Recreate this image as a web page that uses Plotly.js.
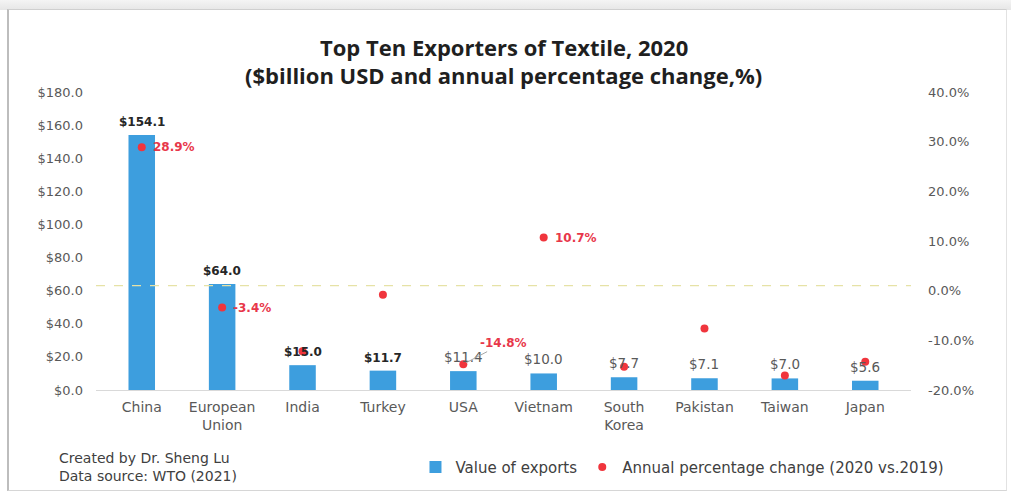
<!DOCTYPE html>
<html>
<head>
<meta charset="utf-8">
<script src="https://cdn.plot.ly/plotly-3.0.1.min.js"></script>
<style>
  html, body { margin: 0; padding: 0; background: #ffffff; }
  #wrap { position: relative; width: 1011px; height: 495px; overflow: hidden; background: #fff; }
  #topshade { position: absolute; left: 0; top: 0; width: 1011px; height: 10px;
    background: linear-gradient(#f4f4f4, #e6e6e6); }
  #frame { position: absolute; left: 7px; top: 9px; width: 1000px; height: 482px;
    border-left: 2px solid #bdbdbd; border-top: 1px solid #cfcfcf; border-bottom: 1px solid #d6d6d6;
    border-right: 1px solid #e2e2e2; box-sizing: border-box; pointer-events: none; }
  #chart { position: absolute; left: 0; top: 0; width: 1011px; height: 495px; }
</style>
</head>
<body>
<div id="wrap">
  <div id="topshade"></div>
  <div id="chart"></div>
  <div id="frame"></div>
</div>
<script>
// ---- data ----
const countries = ["China", "European<br>Union", "India", "Turkey", "USA", "Vietnam", "South<br>Korea", "Pakistan", "Taiwan", "Japan"];
const exportValues = [154.1, 64.0, 15.0, 11.7, 11.4, 10.0, 7.7, 7.1, 7.0, 5.6];
const pctChange = [28.9, -3.4, -12.2, -0.8, -14.8, 10.7, -15.3, -7.6, -17.1, -14.3];
const pctLabelShown = [true, true, false, false, true, true, false, false, false, false];
const refLineValue = 1.0;

const leftTicks = [0, 20, 40, 60, 80, 100, 120, 140, 160, 180];
const leftTickText = leftTicks.map(v => "$" + v.toFixed(1));
const rightTicks = [-20, -10, 0, 10, 20, 30, 40];
const rightTickText = rightTicks.map(v => v.toFixed(1) + "%");

// ---- styling ----
const barColor = "#3d9ede";
const dotColor = "#f0353d";
const tickFont = { family: "DejaVu Sans", size: 13, color: "#595959" };

const bars = {
  type: "bar",
  name: "Value of exports",
  x: countries,
  y: exportValues,
  marker: { color: barColor },
  width: 0.33,
  hoverinfo: "x+y"
};

const dots = {
  type: "scatter",
  mode: "markers",
  name: "Annual percentage change (2020 vs.2019)",
  x: countries,
  y: pctChange,
  yaxis: "y2",
  marker: { color: dotColor, size: 8 },
  hoverinfo: "x+y"
};

const annotations = [];

// value labels above bars
exportValues.forEach((v, i) => {
  const bold = i < 4;
  annotations.push({
    x: countries[i], y: v, xref: "x", yref: "y",
    text: (bold ? "<b>$" + v.toFixed(1) + "</b>" : "$" + v.toFixed(1)),
    showarrow: false, yanchor: "bottom", yshift: 4,
    font: { family: "DejaVu Sans", size: bold ? 12 : 13.5, color: bold ? "#262626" : "#595959" }
  });
});

// percentage labels
pctChange.forEach((p, i) => {
  if (!pctLabelShown[i]) return;
  const txt = "<b>" + p.toFixed(1) + "%</b>";
  if (countries[i] === "USA") {
    annotations.push({
      x: countries[i], y: p, xref: "x", yref: "y2",
      text: txt, showarrow: true, arrowhead: 0, arrowwidth: 1, arrowcolor: "#a6a6a6",
      ax: 40, ay: -21, standoff: 3,
      font: { family: "DejaVu Sans", size: 12, color: "#e8374a" }
    });
  } else {
    annotations.push({
      x: countries[i], y: p, xref: "x", yref: "y2",
      text: txt, showarrow: false, xanchor: "left", xshift: 9,
      font: { family: "DejaVu Sans", size: 12, color: "#e8374a" }
    });
  }
});

// title
annotations.push({
  xref: "paper", yref: "paper", x: 0.5, y: 1, yshift: 45, xanchor: "center", yanchor: "middle",
  text: "<b>Top Ten Exporters of Textile, 2020</b>", showarrow: false,
  font: { family: "Open Sans", size: 22, color: "#1f1f1f" }
});
annotations.push({
  xref: "paper", yref: "paper", x: 0.5, y: 1, yshift: 17, xanchor: "center", yanchor: "middle",
  text: "<b>($billion USD and annual percentage change,%)</b>", showarrow: false,
  font: { family: "Open Sans", size: 22, color: "#1f1f1f" }
});

// source note
annotations.push({
  xref: "paper", yref: "paper", x: 0, y: 0, xshift: -39, yshift: -58, xanchor: "left", yanchor: "top",
  align: "left", showarrow: false,
  text: "Created by Dr. Sheng Lu<br>Data source: WTO (2021)",
  font: { family: "DejaVu Sans", size: 14, color: "#404040" }
});

const layout = {
  width: 1011, height: 495,
  margin: { l: 96, r: 100, t: 92, b: 104 },
  paper_bgcolor: "rgba(0,0,0,0)",
  plot_bgcolor: "rgba(0,0,0,0)",
  showlegend: true,
  legend: {
    orientation: "h", x: 0.392, y: -0.255, xanchor: "left", yanchor: "middle",
    font: { family: "DejaVu Sans", size: 15, color: "#404040" },
    itemwidth: 30, traceorder: "normal"
  },
  xaxis: {
    type: "category",
    showline: true, linecolor: "#d9d9d9", linewidth: 1,
    showgrid: false, ticks: "",
    tickfont: { family: "DejaVu Sans", size: 14, color: "#595959" },
    ticklabelstandoff: 4
  },
  yaxis: {
    range: [0, 180], tickmode: "array", tickvals: leftTicks, ticktext: leftTickText,
    showgrid: false, zeroline: false, showline: false, ticks: "",
    tickfont: tickFont, ticklabelstandoff: 12
  },
  yaxis2: {
    overlaying: "y", side: "right",
    range: [-20, 40], tickmode: "array", tickvals: rightTicks, ticktext: rightTickText,
    showgrid: false, zeroline: false, showline: false, ticks: "",
    tickfont: tickFont, ticklabelstandoff: 16
  },
  shapes: [{
    type: "line", xref: "paper", x0: 0, x1: 1, yref: "y2", y0: refLineValue, y1: refLineValue,
    line: { color: "#e6e2a6", width: 1.2, dash: "dash" }, layer: "above"
  }],
  annotations: annotations
};

Plotly.newPlot("chart", [bars, dots], layout, { displayModeBar: false, staticPlot: true });
</script>
</body>
</html>
